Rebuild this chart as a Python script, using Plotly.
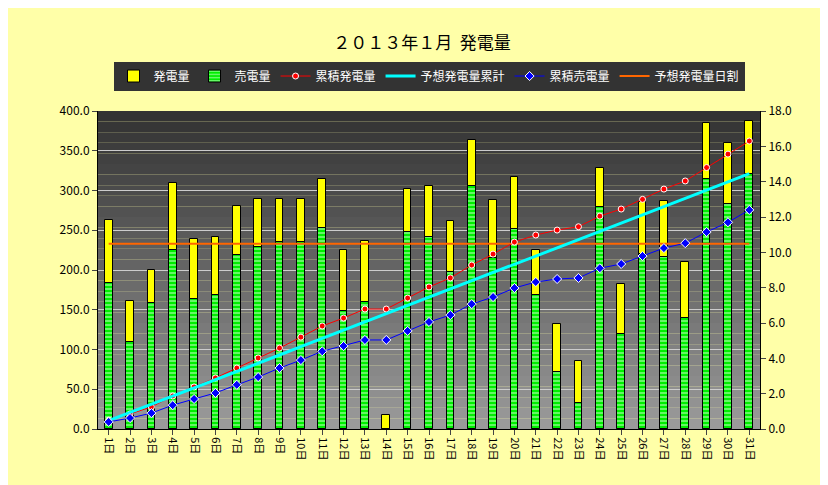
import plotly.graph_objects as go

days = [f"{i}日" for i in range(1, 32)]
gen = [263,161,200,310,239,241,280,289,289,289,315,225,237,17,302,306,262,363,288,317,225,132,85,328,182,285,287,210,385,360,387]
sold = [184,110,158,225,163,168,219,229,235,235,253,149,160,0,248,242,197,306,215,252,169,72,33,279,119,220,216,140,314,283,321]
cum_gen = [0.5,0.85,1.25,1.87,2.38,2.89,3.45,4.02,4.58,5.2,5.83,6.28,6.79,6.79,7.41,8.04,8.55,9.28,9.9,10.58,10.98,11.26,11.45,12.05,12.45,13.0,13.58,14.04,14.8,15.56,16.3]
cum_sold = [0.4,0.62,0.9,1.35,1.7,2.04,2.5,2.94,3.45,3.9,4.4,4.7,5.04,5.04,5.55,6.06,6.45,7.07,7.47,7.98,8.32,8.49,8.55,9.1,9.34,9.79,10.24,10.52,11.15,11.7,12.4]
cum_fc = [0.47,0.93,1.4,1.86,2.33,2.8,3.26,3.73,4.19,4.66,5.13,5.59,6.06,6.52,6.99,7.46,7.92,8.39,8.85,9.32,9.79,10.25,10.72,11.18,11.65,12.12,12.58,13.05,13.51,13.98,14.45]
daily_fc = [233]*31

fig = go.Figure()
fig.add_bar(x=days, y=gen, name="発電量", marker=dict(color="#FFFF00", line=dict(color="black", width=1)), width=0.36)
fig.add_bar(x=days, y=sold, name="売電量", width=0.36,
            marker=dict(color="#00EE00", line=dict(color="black", width=1),
                        pattern=dict(shape="-", fgcolor="#CCFFCC", bgcolor="#00EE00", size=4, solidity=0.5)))
fig.add_scatter(x=days, y=cum_gen, name="累積発電量", yaxis="y2", mode="lines+markers",
                line=dict(color="red", width=1), marker=dict(symbol="circle", size=6, color="red", line=dict(color="white", width=1)))
fig.add_scatter(x=days, y=cum_fc, name="予想発電量累計", yaxis="y2", mode="lines", line=dict(color="#00FFFF", width=3))
fig.add_scatter(x=days, y=cum_sold, name="累積売電量", yaxis="y2", mode="lines+markers",
                line=dict(color="blue", width=1), marker=dict(symbol="diamond", size=7, color="blue", line=dict(color="white", width=1)))
fig.add_scatter(x=days, y=daily_fc, name="予想発電量日割", mode="lines", line=dict(color="#FF6600", width=2))

shapes = []
n = 30
for i in range(n):
    t = i / (n - 1)
    c = int(0x33 + (0x9a - 0x33) * t)
    shapes.append(dict(type="rect", xref="paper", yref="paper", x0=0, x1=1,
                       y0=1 - (i + 1) / n, y1=1 - i / n, fillcolor=f"rgb({c},{c},{c})",
                       line=dict(width=0), layer="below"))

font = "Noto Sans CJK JP"
fig.update_layout(
    width=828, height=485, barmode="overlay", bargap=0,
    paper_bgcolor="#FFFFA8", plot_bgcolor="rgba(0,0,0,0)",
    margin=dict(l=90, r=76, t=103, b=64, autoexpand=False),
    font=dict(family=font, size=12, color="black"),
    title=dict(text="２０１３年１月  発電量", x=0.5, xanchor="center", y=0.94, font=dict(size=17)),
    shapes=shapes,
    legend=dict(orientation="h", x=0.5, xanchor="center", y=1.11, yanchor="middle",
                bgcolor="#333333", font=dict(color="white", size=12), traceorder="normal",
                itemwidth=30, tracegroupgap=0),
    xaxis=dict(range=[-0.5, 30.5], tickangle=90, showgrid=False, linecolor="black", ticks="outside",
               tickfont=dict(size=11), automargin=False),
    yaxis=dict(range=[0, 400], dtick=50, tickformat=".1f", gridcolor="#CCCCCC", linecolor="black",
               ticks="outside", zeroline=False, automargin=False),
    yaxis2=dict(range=[0, 18], dtick=2, tickformat=".1f", overlaying="y", side="right",
                showgrid=False, linecolor="black", ticks="outside", automargin=False),
)
fig.write_html("out.html")
